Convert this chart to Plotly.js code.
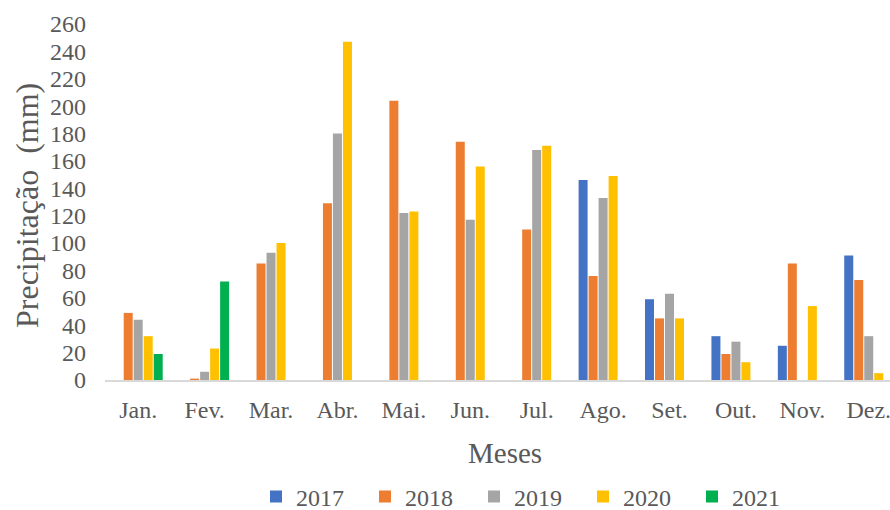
<!DOCTYPE html>
<html>
<head>
<meta charset="utf-8">
<script src="https://cdn.plot.ly/plotly-3.0.1.min.js"></script>
<style>html,body{margin:0;padding:0;background:#fff}#chart{width:890px;height:510px}</style>
</head>
<body>
<div id="chart"></div>
<script>
const months = ["Jan.","Fev.","Mar.","Abr.","Mai.","Jun.","Jul.","Ago.","Set.","Out.","Nov.","Dez."];
const years = ["2017","2018","2019","2020","2021"];
const v2017 = [null,null,null,null,null,null,null,146,59,32,25,91];
const v2018 = [49,1,85,129,204,174,110,76,45,19,85,73];
const v2019 = [44,6,93,180,122,117,168,133,63,28,null,32];
const v2020 = [32,23,100,247,123,156,171,149,45,13,54,5];
const v2021 = [19,72,null,null,null,null,null,null,null,null,null,null];
const colors = ["#4472C4","#ED7D31","#A5A5A5","#FFC000","#00B050"];
const series = [v2017,v2018,v2019,v2020,v2021];
const yTicks = [0,20,40,60,80,100,120,140,160,180,200,220,240,260];
const xTitle = "Meses";
const yTitle = "Precipitação  (mm)";

const font = 'Liberation Serif, Times New Roman, serif';
const textColor = '#595959';

const traces = series.map((vals,i)=>({
  type:'bar', name: years[i], x: months, y: vals,
  marker:{color: colors[i], line:{width:0}},
  hoverinfo:'x+y+name'
}));

const layout = {
  width: 890, height: 510,
  margin: {l:105, r:0, t:24, b:130, pad:0},
  paper_bgcolor:'#fff', plot_bgcolor:'#fff',
  barmode:'group', bargap:0.247, bargroupgap:0.1,
  font:{family:font, color:textColor, size:24},
  showlegend:true,
  legend:{orientation:'h', xref:'container', yref:'container', x:256/890, xanchor:'left',
          y:1-497/510, yanchor:'middle', font:{family:font, size:24, color:textColor},
          entrywidth:64, entrywidthmode:'pixels', itemwidth:30, traceorder:'normal'},
  xaxis:{
    type:'category', range:[-0.5, 11.32], showgrid:false, zeroline:false,
    showline:true, linecolor:'#D9D9D9', linewidth:1.5, ticks:'',
    tickfont:{family:font, size:24, color:textColor}, ticklabelstandoff:8
  },
  yaxis:{
    range:[0,260], tickvals:yTicks, ticktext:yTicks.map(String), showgrid:false, zeroline:false,
    showline:false, ticks:'', tickfont:{family:font, size:24, color:textColor}, ticklabelstandoff:18
  },
  annotations:[
    {text:xTitle, xref:'paper', yref:'paper', x:(505-105)/785, y:-(453-380)/356, xanchor:'center', yanchor:'middle',
     showarrow:false, font:{family:font, size:29, color:textColor}},
    {text:yTitle, xref:'paper', yref:'paper', x:-(105-27)/785, y:(380-206)/356, xanchor:'center', yanchor:'middle',
     textangle:-90, showarrow:false, font:{family:font, size:32, color:textColor}}
  ]
};
Plotly.newPlot('chart', traces, layout, {displayModeBar:false, staticPlot:true});
</script>
</body>
</html>
